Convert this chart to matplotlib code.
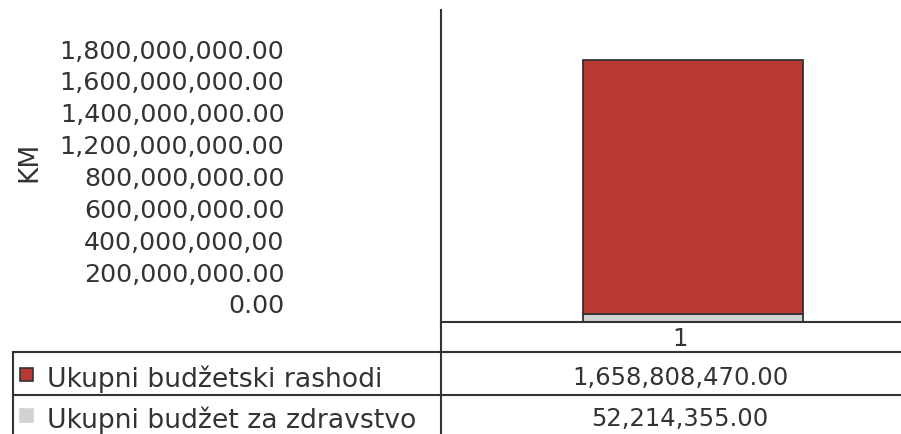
import matplotlib
matplotlib.use("Agg")
import matplotlib.pyplot as plt
from matplotlib.lines import Line2D
from matplotlib.patches import Rectangle
from matplotlib.transforms import ScaledTranslation

# ---- data ----
categories = ["1"]
series_names = ["Ukupni budžetski rashodi", "Ukupni budžet za zdravstvo"]
rashodi = [1658808470.00]
zdravstvo = [52214355.00]
value_labels = ["1,658,808,470.00", "52,214,355.00"]
ytick_labels = ["0.00", "200,000,000.00", "400,000,000,00", "600,000,000.00",
                "800,000,000.00", "1,200,000,000.00", "1,400,000,000.00",
                "1,600,000,000.00", "1,800,000,000.00"]
y_label = "KM"

RED = "#B83A32"
GREY = "#D1D2D4"
EDGE = "#333333"
TXT = "#333333"
FONT = "DejaVu Sans"
FS_TICK = 18.2
FS_VAL = 17.5
FS_LEG = 19.2
FS_KM = 19

W, H = 901, 435
DPI = 100
fig = plt.figure(figsize=(W / DPI, H / DPI), dpi=DPI)
plt.rcParams['font.family'] = [FONT]


def fx(px):
    return px / W


def fy(py):
    return 1 - py / H


# main axes: x 441..901, y 11..323
ax = fig.add_axes([fx(441), fy(323), fx(901 - 441), (323 - 11) / H])
total = rashodi[0] + zdravstvo[0]
ax.set_ylim(0, total * 312 / 262)
bar_w = 0.8
ppu = 220 / bar_w
ax.set_xlim(-(693 - 441) / ppu, (901 - 693) / ppu)
x = list(range(len(categories)))
ax.bar(x, zdravstvo, width=bar_w, color=GREY, edgecolor=EDGE, linewidth=1.3)
ax.bar(x, rashodi, width=bar_w, bottom=zdravstvo, color=RED, edgecolor=EDGE, linewidth=1.3)
for s in ["top", "right"]:
    ax.spines[s].set_visible(False)
for s in ["left", "bottom"]:
    ax.spines[s].set_color(EDGE)
    ax.spines[s].set_linewidth(1.5)
ax.set_yticks([])
ax.set_xticks(x)
ax.set_xticklabels(categories, fontsize=FS_VAL, color=TXT)
ax.tick_params(axis="x", length=0, pad=3)
for lab in ax.get_xticklabels():
    lab.set_transform(lab.get_transform() + ScaledTranslation(-13 / DPI, 0, fig.dpi_scale_trans))

# tick-label axis (labels listed evenly)
axl = fig.add_axes([fx(290), fy(304), fx(10), (304 - 49) / H])
axl.set_ylim(0, len(ytick_labels) - 1)
axl.set_yticks(range(len(ytick_labels)))
axl.set_yticklabels(ytick_labels, fontsize=FS_TICK, color=TXT)
axl.tick_params(axis="y", length=0, pad=4)
axl.set_xticks([])
for s in axl.spines.values():
    s.set_visible(False)
axl.patch.set_alpha(0)

fig.text(fx(29), fy(162), y_label, rotation=90, ha="center", va="center",
         fontsize=FS_KM, color=TXT)

# table lines
lw = 1.5
fig.add_artist(Line2D([fx(441), fx(441)], [fy(323), fy(435)], color=EDGE, lw=lw))
for yy in (353, 396):
    fig.add_artist(Line2D([fx(13), 1], [fy(yy), fy(yy)], color=EDGE, lw=lw))
fig.add_artist(Line2D([fx(13), fx(13)], [fy(353), fy(435)], color=EDGE, lw=lw))

# table rows
rows_y = [376, 417]
colors = [RED, GREY]
edges = [EDGE, GREY]
for i in range(len(series_names)):
    cy = rows_y[i]
    fig.add_artist(Rectangle((fx(20), fy(cy + 6)), fx(13), 13 / H,
                             facecolor=colors[i], edgecolor=edges[i], lw=1.2))
    fig.text(fx(47), fy(cy), series_names[i], ha="left", va="center_baseline",
             fontsize=FS_LEG, color=TXT)
    fig.text(fx(680), fy(cy), value_labels[i], ha="center", va="center_baseline",
             fontsize=FS_VAL, color=TXT)

fig.savefig("out.png", dpi=DPI)
